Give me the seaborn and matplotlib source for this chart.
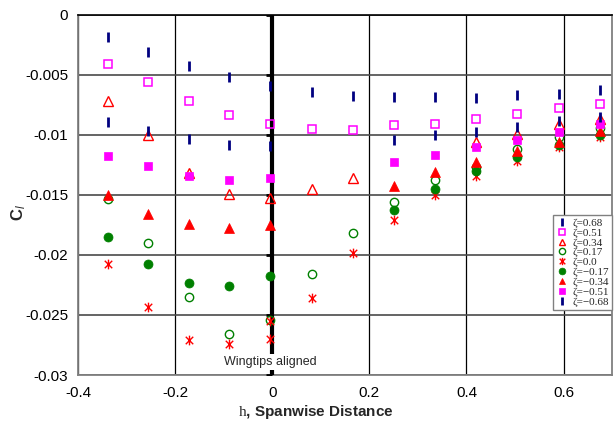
import numpy as np
import pandas as pd
import matplotlib
matplotlib.use("Agg")
import matplotlib.pyplot as plt
from matplotlib.path import Path
from matplotlib.ticker import FixedLocator, FixedFormatter
import seaborn as sns

# Spanwise positions of the trailing wing
h_all = [-0.338, -0.255, -0.172, -0.088, -0.004, 0.081, 0.166, 0.250, 0.336, 0.420, 0.505, 0.590, 0.675]
h_tri = [-0.338, -0.255, -0.172, -0.088, -0.004, 0.081, 0.166, 0.420, 0.505, 0.590, 0.675]
h_zero = [-0.338, -0.255, -0.172, -0.088, -0.004, -0.004, 0.081, 0.166, 0.250, 0.336, 0.420, 0.505, 0.590, 0.675]
h_neg = [-0.338, -0.255, -0.172, -0.088, -0.004, 0.250, 0.336, 0.420, 0.505, 0.590, 0.675]

# Rolling-moment coefficient for each vertical offset zeta
cl_p068 = [-0.00188, -0.00313, -0.00425, -0.00517, -0.00592, -0.00642, -0.00680,
           -0.00686, -0.00686, -0.00692, -0.00672, -0.00658, -0.00630]
cl_p051 = [-0.00413, -0.00561, -0.00719, -0.00838, -0.00913, -0.00953, -0.00958,
           -0.00917, -0.00911, -0.00872, -0.00825, -0.00778, -0.00747]
cl_p034 = [-0.00717, -0.01003, -0.01317, -0.01490, -0.01530, -0.01453, -0.01363,
           -0.01058, -0.00994, -0.00913, -0.00872]
cl_p017 = [-0.01536, -0.01897, -0.02347, -0.02658, -0.02544, -0.02163, -0.01817,
           -0.01561, -0.01380, -0.01270, -0.01119, -0.01017, -0.00947]
cl_000 = [-0.02078, -0.02430, -0.02711, -0.02744, -0.02548, -0.02697, -0.02355,
          -0.01988, -0.01713, -0.01497, -0.01344, -0.01217, -0.01100, -0.01017]
cl_m017 = [-0.01853, -0.02078, -0.02230, -0.02261, -0.02178, -0.01622, -0.01451,
           -0.01305, -0.01188, -0.01086, -0.01003]
cl_m034 = [-0.01505, -0.01658, -0.01742, -0.01778, -0.01747, -0.01428, -0.01313,
           -0.01230, -0.01136, -0.01058, -0.00969]
cl_m051 = [-0.01175, -0.01263, -0.01342, -0.01380, -0.01363, -0.01225, -0.01165,
           -0.01100, -0.01044, -0.00980, -0.00911]
cl_m068 = [-0.00894, -0.00967, -0.01038, -0.01088, -0.01092, -0.01044, -0.01005,
           -0.00980, -0.00938, -0.00886, -0.00850]

labels = ["ζ=0.68", "ζ=0.51", "ζ=0.34", "ζ=0.17", "ζ=0.0",
          "ζ=−0.17", "ζ=−0.34", "ζ=−0.51", "ζ=−0.68"]

x_ticks = [-0.4, -0.2, 0.0, 0.2, 0.4, 0.6]
x_ticklabels = ["-0.4", "-0.2", "0", "0.2", "0.4", "0.6"]
y_ticks = [0.0, -0.005, -0.01, -0.015, -0.02, -0.025, -0.03]
y_ticklabels = ["0", "-0.005", "-0.01", "-0.015", "-0.02", "-0.025", "-0.03"]

sns.set_style("white")
plt.rcParams["font.family"] = ["Liberation Sans", "DejaVu Sans"]
plt.rcParams["axes.unicode_minus"] = False
plt.rcParams["mathtext.fontset"] = "custom"
plt.rcParams["mathtext.rm"] = "Liberation Serif"
plt.rcParams["mathtext.it"] = "Liberation Sans:italic"
plt.rcParams["mathtext.bf"] = "Liberation Sans:bold"

# asterisk marker: an x crossed by a vertical stroke
star = Path([(-1, -1), (1, 1), (-1, 1), (1, -1), (0, -1.3), (0, 1.3)],
            [Path.MOVETO, Path.LINETO, Path.MOVETO, Path.LINETO, Path.MOVETO, Path.LINETO])

navy, magenta, red, green = "#000080", "#FF00FF", "#FF0000", "#008000"

series = [
    (h_all, cl_p068, dict(marker="|", color=navy, mec=navy, ms=7, mew=2.0)),
    (h_all, cl_p051, dict(marker="s", color=magenta, mfc="none", mec=magenta, ms=6, mew=1.1)),
    (h_tri, cl_p034, dict(marker="^", color=red, mfc="none", mec=red, ms=6.5, mew=1.0)),
    (h_all, cl_p017, dict(marker="o", color=green, mfc="none", mec=green, ms=6, mew=1.0)),
    (h_zero, cl_000, dict(marker=star, color=red, mfc="none", mec=red, ms=7, mew=1.0)),
    (h_neg, cl_m017, dict(marker="o", color=green, mfc=green, mec=green, ms=6.5, mew=0.5)),
    (h_neg, cl_m034, dict(marker="^", color=red, mfc=red, mec=red, ms=6.5, mew=0.5)),
    (h_neg, cl_m051, dict(marker="s", color=magenta, mfc=magenta, mec=magenta, ms=6, mew=0.5)),
    (h_neg, cl_m068, dict(marker="|", color=navy, mec=navy, ms=7, mew=2.0)),
]

fig = plt.figure(figsize=(6.14, 4.25), dpi=100)
ax = fig.add_axes([0.127, 0.1176, 0.870, 0.8478])

for (hx, cy, style), lab in zip(series, labels):
    df = pd.DataFrame({"h": hx, "cl": cy})
    sns.lineplot(data=df, x="h", y="cl", ax=ax, estimator=None, sort=False,
                 linestyle="none", label=lab, zorder=5, **style)

ax.set_xlim(-0.4, 0.7)
ax.set_ylim(-0.03, 0.0)
ax.xaxis.set_major_locator(FixedLocator(x_ticks))
ax.xaxis.set_major_formatter(FixedFormatter(x_ticklabels))
ax.yaxis.set_major_locator(FixedLocator(y_ticks))
ax.yaxis.set_major_formatter(FixedFormatter(y_ticklabels))
ax.tick_params(axis="both", length=0, labelsize=11, colors="black")
ax.tick_params(axis="y", pad=7)
ax.tick_params(axis="x", pad=8)

ax.yaxis.grid(True, color="#4a4a4a", lw=1.2, zorder=0)
ax.xaxis.grid(True, color="black", lw=0.9, zorder=0)
ax.set_axisbelow(True)
for side in ["left", "bottom", "right"]:
    ax.spines[side].set_color("#808080")
    ax.spines[side].set_linewidth(1.3)
ax.spines["top"].set_color("black")
ax.spines["top"].set_linewidth(1.2)

# reference line where the wingtips line up, with its own tick marks
ax.plot([0, 0], [0, -0.03], color="black", lw=3, zorder=3, solid_capstyle="butt")
ax.plot(np.zeros(len(y_ticks)), y_ticks, linestyle="none", marker=0, ms=4,
        mew=2, color="black", zorder=3)
ax.text(-0.003, -0.0289, "Wingtips aligned", ha="center", va="center",
        fontsize=9, zorder=4, bbox=dict(fc="white", ec="none", pad=1.5))

ax.set_xlabel(r"$\mathrm{h}$, Spanwise Distance", fontsize=11, fontweight="bold")
ax.xaxis.set_label_coords(0.446, -0.077)
ax.set_ylabel(r"C$_{\mathit{l}}$", fontsize=12, fontweight="bold")
ax.yaxis.set_label_coords(-0.094, 0.45)

leg = ax.legend(loc="lower right", bbox_to_anchor=(1.0, 0.18), frameon=True,
                fancybox=False, framealpha=1, edgecolor="#808080",
                prop={"family": "Liberation Serif", "size": 8},
                handlelength=0.9, handletextpad=0.5, labelspacing=0.0,
                borderpad=0.3, borderaxespad=0.0, markerscale=0.75)
leg.get_frame().set_linewidth(1.0)
leg.set_zorder(10)

fig.savefig("out.png", dpi=100)
